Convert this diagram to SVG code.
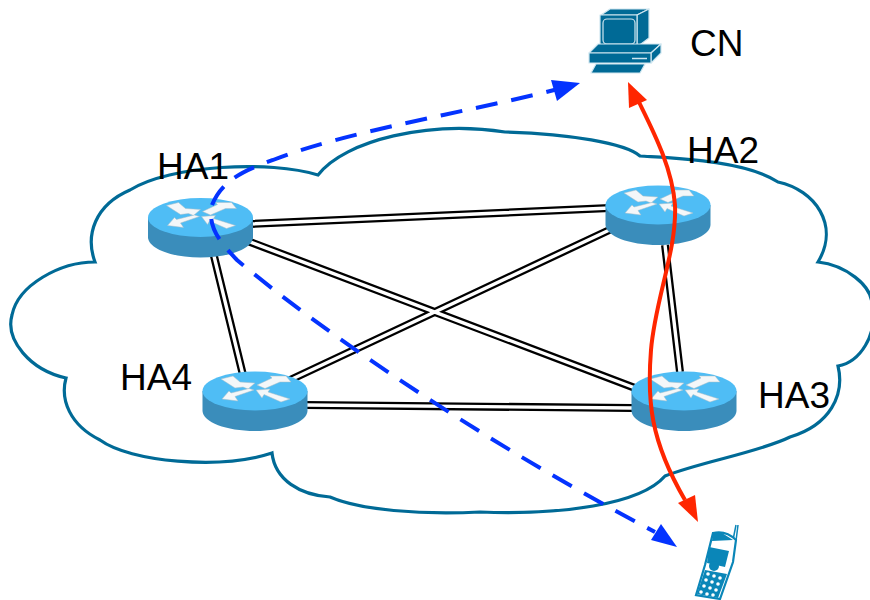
<svg xmlns="http://www.w3.org/2000/svg" width="870" height="600" viewBox="0 0 870 600">
<style>
.lbl{font-family:"Liberation Sans",Arial,sans-serif;font-size:37px;fill:#000}
.cloud{fill:none;stroke:#006a96;stroke-width:3.2}
.o{fill:none;stroke:#000;stroke-width:8}
.i{fill:none;stroke:#fff;stroke-width:3.4}
.blue{fill:none;stroke:#0433ff;stroke-width:4;stroke-dasharray:22 14}
.red{fill:none;stroke:#ff2600;stroke-width:4}
.ah{fill:#0433ff}
.ar{fill:#ff2600}
.side{fill:#3a8dbb}
.top{fill:#4fbdf5}
.w{fill:#f4f7f9;stroke:#a9bcc6;stroke-width:.5}
.pc{fill:#006a96;stroke:#cfe6f0;stroke-width:1.2;stroke-linejoin:round}
.ph{fill:#fff;stroke:#0a86b8;stroke-width:2.2}
.phf{fill:#0a86b8}
.key{fill:#fff}
</style>
<defs>
<g id="router">
<path class="side" d="M-52.500 0V20C-52 31-29 40 0 40S52 31 52.500 20V0Z"/>
<ellipse class="top" cx="0" cy="0" rx="52.500" ry="19.500"/>
<path class="w" d="M-34-12L-22-15-15-9 0-8-7-2-12-4-20-3Z"/>
<path class="w" d="M2-6L17-13 15-15 31-15 36-9 25-9 10-2.500Z"/>
<path class="w" d="M-1-1L-6-2.500-24 2-26 0-33 8-17 10-20 5.500Z"/>
<path class="w" d="M1-1L15-2 13 1 35 8 26 11 9 3.500 7 7Z"/>
</g>
</defs>
<g id="cloud"><path class="cloud" d="M318 175C345 140 430 120 505 132C570 134 625 143 640 156C670 158 745 160 778 182C815 190 840 225 818 262C845 265 872 285 872 305C878 335 860 362 838 366C845 395 830 425 790 437C760 452 700 462 665 476C640 505 560 515 480 512C420 515 360 510 330 497C300 495 275 480 272 453C220 470 130 462 100 440C70 425 60 400 66 378C30 370 5 340 12 315C18 285 60 262 95 262C85 235 95 205 130 190C170 165 270 160 318 175Z"/></g>
<g id="links">
<path class="o" d="M250 224L610 208M245 240L635 388M213 252L243 375M665 245L680 372M620 225L290 380M305 405L632 408"/>
<path class="i" d="M250 224L610 208M245 240L635 388M213 252L243 375M665 245L680 372M620 225L290 380M305 405L632 408"/>
</g>
<g id="HA1"><use href="#router" x="200.500" y="217.500"/><text class="lbl" x="157" y="179">HA1</text></g>
<g id="HA2"><use href="#router" x="658" y="205"/><text class="lbl" x="687" y="163">HA2</text></g>
<g id="HA3"><use href="#router" x="684" y="391"/><text class="lbl" x="758" y="408">HA3</text></g>
<g id="HA4"><use href="#router" x="255" y="391"/><text class="lbl" x="120" y="390">HA4</text></g>
<g id="CN">
<path class="pc" d="M601 15L610 9H649L637 15Z"/>
<path class="pc" d="M637 15L649 9V38L637 47Z"/>
<path class="pc" d="M600 15H637V47H600Z"/>
<rect x="603" y="19" width="32" height="25" rx="4" fill="none" stroke="#cfe6f0" stroke-width="1.200"/>
<path class="pc" d="M589 53L598 44H661L651 53Z"/>
<path class="pc" d="M651 53L661 44V53L651 63Z"/>
<path class="pc" d="M589 53H651V63H589Z"/>
<path d="M632 58.500H647" stroke="#cfe6f0" stroke-width="1.500"/>
<path class="pc" d="M596 64H645L640 73H591Z"/>
<text class="lbl" x="690" y="56">CN</text>
</g>
<g id="phone">
<path d="M733 540L736 525M736 541L738 525" stroke="#0a86b8" stroke-width="1.500" fill="none"/>
<path class="ph" d="M713 533Q726 530 736 540L733 562 720 599 696 595 705 565Z"/>
<path class="phf" d="M709 547L729 551 725 567 707 563Z"/>
<path class="phf" d="M713 533L722 533 733 540 712 541Z"/>
<circle class="phf" cx="714" cy="566" r="5"/>
<path class="phf" d="M705 570L727 574 718 598 697 594Z"/>
<g class="key">
<circle cx="708" cy="574" r="1.800"/><circle cx="714" cy="576" r="1.800"/><circle cx="720" cy="578" r="1.800"/>
<circle cx="706" cy="580" r="1.800"/><circle cx="712" cy="582" r="1.800"/><circle cx="718" cy="584" r="1.800"/>
<circle cx="704" cy="586" r="1.800"/><circle cx="710" cy="588" r="1.800"/><circle cx="716" cy="590" r="1.800"/>
<circle cx="701" cy="592" r="1.800"/><circle cx="707" cy="594" r="1.800"/><circle cx="713" cy="595" r="1.800"/>
</g>
</g>
<g id="arrows">
<path class="blue" d="M212 205C222 180 245 170 273 160C350 130 470 112 562 88"/>
<path class="ah" d="M580 83L557 101 551 80Z"/>
<path class="blue" stroke-dashoffset="22" d="M212 205C208 225 216 238 237 260C320 330 480 440 655 532"/>
<path class="ah" d="M677 547L651 540 661 524Z"/>
<path class="red" d="M637 98C650 125 672 165 675 205C677 250 655 300 651 350C647 400 650 440 685 500"/>
<path class="ar" d="M628 82L647 100 629 108Z"/>
<path class="ar" d="M698 522L678 503 695 495Z"/>
</g>
</svg>
